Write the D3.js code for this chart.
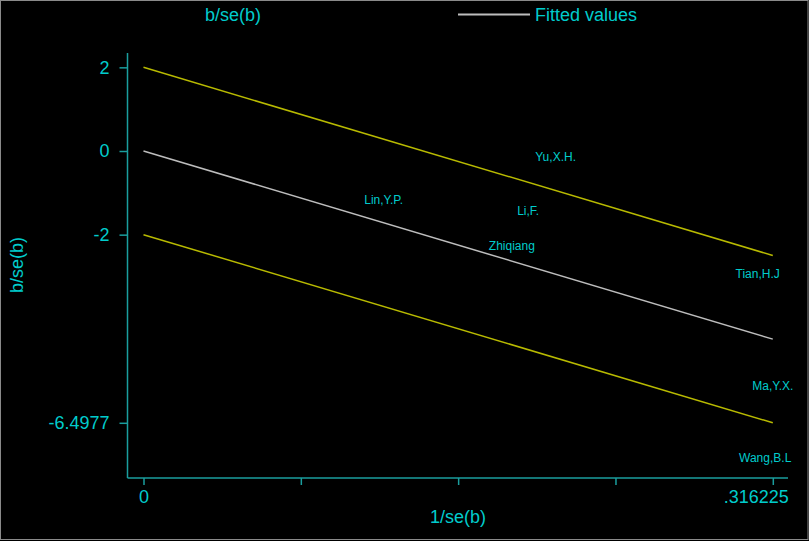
<!DOCTYPE html>
<html>
<head>
<meta charset="utf-8">
<script src="https://cdn.jsdelivr.net/npm/d3@7"></script>
<style>
html,body{margin:0;padding:0;background:#000;}
svg{display:block;}
text{font-family:"Liberation Sans",Arial,sans-serif;}
</style>
</head>
<body>
<svg id="chart" width="809" height="541"></svg>
<script>
// Study labels and their (1/se(b), b/se(b)) coordinates
const studies = ["Yu,X.H.", "Lin,Y.P.", "Li,F.", "Zhiqiang", "Tian,H.J", "Ma,Y.X.", "Wang,B.L"];
const precision = [0.2071, 0.1207, 0.1933, 0.1851, 0.3086, 0.316225, 0.3124];
const zscores = [-0.143, -1.171, -1.422, -2.27, -2.94, -5.618, -7.339];
// Fitted line through origin: b/se(b) = slope * 1/se(b)
const xMax = 0.316225;
const slope = -14.223;
const bandOffsets = [2, -2];
const yTicks = [2, 0, -2, -6.4977];
const yTickLabels = ["2", "0", "-2", "-6.4977"];
const xTicks = [0, xMax / 4, xMax / 2, 3 * xMax / 4, xMax];
const xTickLabels = ["0", "", "", "", ".316225"];
const yTitle = "b/se(b)";
const xTitle = "1/se(b)";
const legendLabels = ["b/se(b)", "Fitted values"];

const svg = d3.select("#chart");
const cyan = "#00cccc";
const axisCol = "#1a9e9e";
const yellow = "#b8ba00";
const grey = "#bdbdbd";

svg.append("rect").attr("x", 0.5).attr("y", 0.5).attr("width", 807.5).attr("height", 539)
  .attr("fill", "#000").attr("stroke", "#8a8a8a").attr("stroke-width", 1);

const x = d3.scaleLinear().domain([0, xMax]).range([143.5, 772.8]);
const y = d3.scaleLinear().domain([0, -6.4977]).range([151, 422.8]);

// axes
const xAxis = d3.axisBottom(x).tickValues(xTicks).tickFormat((d, i) => xTickLabels[i]).tickSize(7).tickPadding(5);
const gx = svg.append("g").attr("transform", "translate(0,478)").call(xAxis);
gx.select(".domain").remove();
svg.append("line").attr("x1", 127.5).attr("x2", 788).attr("y1", 478).attr("y2", 478).attr("stroke", axisCol).attr("stroke-width", 1.5);
gx.selectAll(".tick line").attr("stroke", axisCol).attr("stroke-width", 1.5);
gx.selectAll(".tick text").attr("fill", cyan).attr("font-size", 18).attr("font-family", "Liberation Sans, Arial, sans-serif")
  .attr("text-anchor", (d, i) => i === 4 ? "end" : "middle")
  .attr("x", (d, i) => i === 4 ? 15.5 : 0);

const yAxis = d3.axisLeft(y).tickValues(yTicks).tickFormat((d, i) => yTickLabels[i]).tickSize(8).tickPadding(10);
const gy = svg.append("g").attr("transform", "translate(127.5,0)").call(yAxis);
gy.select(".domain").remove();
svg.append("line").attr("x1", 127.5).attr("x2", 127.5).attr("y1", 53).attr("y2", 478).attr("stroke", axisCol).attr("stroke-width", 1.5);
gy.selectAll(".tick line").attr("stroke", axisCol).attr("stroke-width", 1.5);
gy.selectAll(".tick text").attr("fill", cyan).attr("font-size", 18).attr("font-family", "Liberation Sans, Arial, sans-serif");

// lines
const lineGen = d3.line().x(d => x(d[0])).y(d => y(d[1]));
bandOffsets.forEach(o => {
  svg.append("path").attr("d", lineGen([[0, o], [xMax, o + slope * xMax]]))
    .attr("stroke", yellow).attr("stroke-width", 1.5).attr("fill", "none");
});
svg.append("path").attr("d", lineGen([[0, 0], [xMax, slope * xMax]]))
  .attr("stroke", grey).attr("stroke-width", 1.5).attr("fill", "none");

// labels as markers
svg.append("g").selectAll("text").data(studies).join("text")
  .attr("x", (d, i) => x(precision[i]))
  .attr("y", (d, i) => y(zscores[i]))
  .attr("dy", "0.35em")
  .attr("text-anchor", "middle")
  .attr("font-size", 12)
  .attr("fill", cyan)
  .text(d => d);

// titles
svg.append("text").attr("transform", "translate(23,265) rotate(-90)").attr("text-anchor", "middle")
  .attr("font-size", 18).attr("fill", cyan).text(yTitle);
svg.append("text").attr("x", 458).attr("y", 523).attr("text-anchor", "middle")
  .attr("font-size", 18).attr("fill", cyan).text(xTitle);

// legend
svg.append("text").attr("x", 233).attr("y", 21).attr("text-anchor", "middle")
  .attr("font-size", 18).attr("fill", cyan).text(legendLabels[0]);
svg.append("line").attr("x1", 458).attr("x2", 530).attr("y1", 14.5).attr("y2", 14.5)
  .attr("stroke", grey).attr("stroke-width", 2);
svg.append("text").attr("x", 535).attr("y", 21).attr("font-size", 18).attr("fill", cyan).text(legendLabels[1]);
</script>
</body>
</html>
